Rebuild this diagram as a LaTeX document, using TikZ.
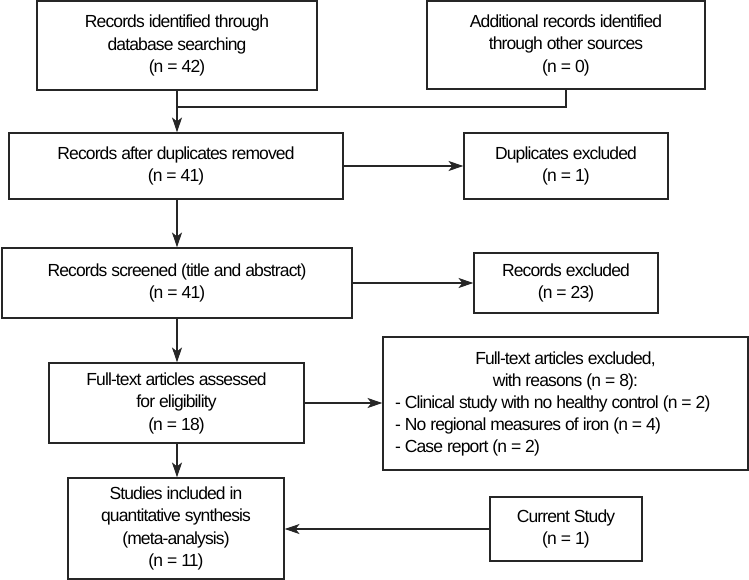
\documentclass[tikz,border=0pt]{standalone}
\usepackage{fontspec}
\setmainfont{Liberation Sans}[LetterSpace=-5]
\usetikzlibrary{arrows.meta}
\begin{document}
\begin{tikzpicture}[x=1pt,y=-1pt,
 box/.style={draw=black!85, line width=1.1pt, inner sep=0pt, align=center, font=\fontsize{17.5}{22.5}\selectfont},
 arr/.style={line width=1.1pt, draw=black!85, -{Stealth[length=15pt,width=10pt,inset=4pt]}},
 ln/.style={line width=1.1pt, draw=black!85}]
\useasboundingbox (0,0) rectangle (749,580);
\node[box, minimum width=280, minimum height=89] (b1) at (177,45.5) {Records identified through\\database searching\\(n = 42)};
\node[box, minimum width=278, minimum height=88] (b2) at (566,45) {Additional records identified\\through other sources\\(n = 0)};
\node[box, minimum width=334, minimum height=66] (b3) at (176,166) {Records after duplicates removed\\(n = 41)};
\node[box, minimum width=204, minimum height=66] (b4) at (566,166) {Duplicates excluded\\(n = 1)};
\node[box, minimum width=350, minimum height=70] (b5) at (177,283) {Records screened (title and abstract)\\(n = 41)};
\node[box, minimum width=184, minimum height=60] (b6) at (566,283) {Records excluded\\(n = 23)};
\node[box, minimum width=255, minimum height=80] (b7) at (176.5,403) {Full-text articles assessed\\for eligibility\\(n = 18)};
\node[box, minimum width=365, minimum height=133, align=left] (b8) at (565.5,403.5) {\parbox{341pt}{\fontsize{17.5}{22}\selectfont{\centering Full-text articles excluded,\\ with reasons (n = 8):\par}\raggedright - Clinical study with no healthy control (n = 2)\\ - No regional measures of iron (n = 4)\\ - Case report (n = 2)}};
\node[box, minimum width=216, minimum height=101] (b9) at (176,528.5) {Studies included in\\quantitative synthesis\\(meta-analysis)\\(n = 11)};
\node[box, minimum width=152, minimum height=64] (b10) at (566,529) {Current Study\\(n = 1)};
\coordinate (m) at (177,107);
\draw[arr] (b1.south -| m) -- (b3.north -| m);
\draw[ln] (b2.south) |- (m);
\draw[arr] (b3.east) -- (b4.west);
\draw[arr] (b3.south -| m) -- (b5.north -| m);
\draw[arr] (b5.east) -- (b6.west);
\draw[arr] (b5.south -| m) -- (b7.north -| m);
\draw[arr] (b7.east) -- (b7.east -| b8.west);
\draw[arr] (b7.south -| m) -- (b9.north -| m);
\draw[arr] (b10.west) -- (b10.west -| b9.east);
\end{tikzpicture}
\end{document}
